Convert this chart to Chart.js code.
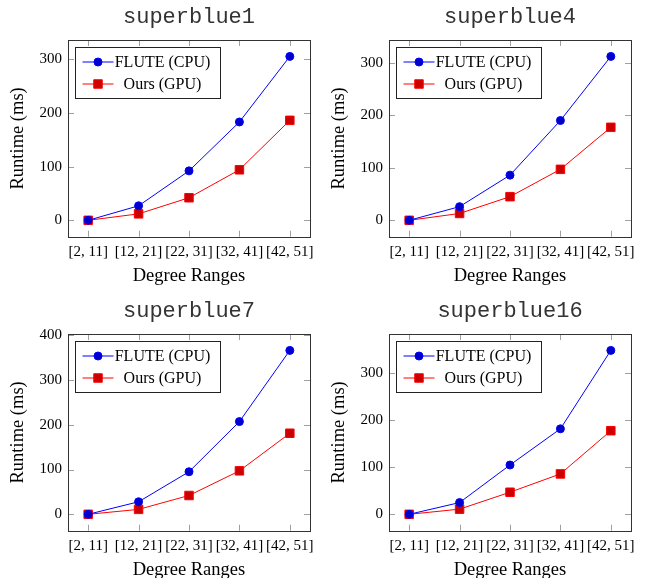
<!DOCTYPE html>
<html>
<head>
<meta charset="utf-8">
<script src="https://cdn.jsdelivr.net/npm/chart.js@4.4.0/dist/chart.umd.min.js"></script>
<style>
  html, body { margin: 0; padding: 0; background: #fff; overflow: hidden; }
  #wrap { position: relative; width: 645px; height: 578px; overflow: hidden; }
  canvas { position: absolute; }
</style>
</head>
<body>
<div id="wrap">
  <canvas id="c1" width="322" height="294" style="left:0;top:0"></canvas>
  <canvas id="c2" width="322" height="294" style="left:321px;top:0"></canvas>
  <canvas id="c3" width="322" height="294" style="left:0;top:294px"></canvas>
  <canvas id="c4" width="322" height="294" style="left:321px;top:294px"></canvas>
</div>
<script>
// data
const categories = ['[2, 11]', '[12, 21]', '[22, 31]', '[32, 41]', '[42, 51]'];
const seriesNames = ['FLUTE (CPU)', 'Ours (GPU)'];

const titles = ['superblue1', 'superblue4', 'superblue7', 'superblue16'];

const flute1 = [0, 27, 92, 183, 305];
const ours1 = [0, 12, 42, 94, 186];
const flute4 = [0, 26, 86, 190, 312];
const ours4 = [0, 13, 45, 97, 177];
const flute7 = [0, 28, 95, 207, 366];
const ours7 = [0, 11, 42, 97, 181];
const flute16 = [0, 25, 105, 182, 349];
const ours16 = [0, 11, 47, 86, 178];

const panels = [
  { id: 'c1', title: titles[0], flute: flute1, ours: ours1 },
  { id: 'c2', title: titles[1], flute: flute4, ours: ours4 },
  { id: 'c3', title: titles[2], flute: flute7, ours: ours7 },
  { id: 'c4', title: titles[3], flute: flute16, ours: ours16 }
];

const serif = "'Liberation Serif', 'Times New Roman', serif";

// pgfplots-like frame with inner tick marks
const framePlugin = {
  id: 'frame',
  beforeDatasetsDraw(chart) {
    const ctx = chart.ctx, a = chart.chartArea;
    const len = 6;
    ctx.save();
    ctx.strokeStyle = '#a0a0a0';
    ctx.lineWidth = 1;
    ctx.beginPath();
    chart.scales.y.ticks.forEach(t => {
      const y = Math.round(chart.scales.y.getPixelForValue(t.value)) + 0.5;
      ctx.moveTo(a.left, y); ctx.lineTo(a.left + len, y);
      ctx.moveTo(a.right, y); ctx.lineTo(a.right - len, y);
    });
    chart.scales.x.ticks.forEach(t => {
      const x = Math.round(chart.scales.x.getPixelForValue(t.value)) + 0.5;
      ctx.moveTo(x, a.bottom); ctx.lineTo(x, a.bottom - len);
      ctx.moveTo(x, a.top); ctx.lineTo(x, a.top + len);
    });
    ctx.stroke();
    ctx.restore();
  },
  afterDatasetsDraw(chart) {
    const ctx = chart.ctx, a = chart.chartArea;
    ctx.save();
    ctx.strokeStyle = '#333';
    ctx.lineWidth = 1;
    ctx.strokeRect(Math.round(a.left) + 0.5, Math.round(a.top) + 0.5,
      Math.round(a.right - a.left), Math.round(a.bottom - a.top));
    ctx.restore();
  }
};

// title centred over the plot box, like pgfplots does
const plotTitle = {
  id: 'plotTitle',
  afterDraw(chart, args, opts) {
    const ctx = chart.ctx, a = chart.chartArea;
    ctx.save();
    ctx.font = "22px 'Liberation Mono', 'Courier New', monospace";
    ctx.fillStyle = '#333';
    ctx.textAlign = 'center';
    ctx.textBaseline = 'middle';
    ctx.fillText(opts.text, (a.left + a.right) / 2, 17);
    ctx.restore();
  }
};

// legend box in the upper left corner of the plot
const boxLegend = {
  id: 'boxLegend',
  afterDraw(chart) {
    const ctx = chart.ctx, a = chart.chartArea;
    const x0 = Math.round(a.left + 7) + 0.5, y0 = Math.round(a.top + 7) + 0.5;
    const w = 145, h = 51;
    ctx.save();
    ctx.fillStyle = '#fff';
    ctx.fillRect(x0, y0, w, h);
    ctx.strokeStyle = '#222';
    ctx.lineWidth = 1;
    ctx.strokeRect(x0, y0, w, h);
    ctx.font = '16px ' + serif;
    ctx.textAlign = 'center';
    ctx.textBaseline = 'middle';
    chart.data.datasets.forEach((ds, i) => {
      const cy = y0 + 14.5 + i * 22;
      ctx.strokeStyle = ds.borderColor;
      ctx.lineWidth = 1;
      ctx.beginPath();
      ctx.moveTo(x0 + 7, cy); ctx.lineTo(x0 + 38, cy);
      ctx.stroke();
      ctx.fillStyle = ds.pointBackgroundColor;
      ctx.strokeStyle = ds.pointBorderColor;
      ctx.beginPath();
      if (ds.pointStyle === 'rect') {
        const s = ds.pointRadius * Math.SQRT1_2;
        ctx.rect(x0 + 22.5 - s, cy - s, 2 * s, 2 * s);
      } else {
        ctx.arc(x0 + 22.5, cy, ds.pointRadius, 0, Math.PI * 2);
      }
      ctx.fill(); ctx.stroke();
      ctx.fillStyle = '#000';
      ctx.fillText(ds.label, x0 + 87, cy + 1);
    });
    ctx.restore();
  }
};

panels.forEach(p => {
  const top = Math.max(...p.flute, ...p.ours);
  const yMin = -0.1 * top, yMax = 1.1 * top;

  new Chart(document.getElementById(p.id), {
    type: 'line',
    data: {
      datasets: [{
        label: seriesNames[0],
        data: p.flute.map((v, i) => ({ x: i, y: v })),
        borderColor: '#0000ff',
        borderWidth: 1,
        pointStyle: 'circle',
        pointRadius: 4,
        pointBorderWidth: 1,
        pointBackgroundColor: '#0000cc',
        pointBorderColor: '#0000ff',
        tension: 0
      }, {
        label: seriesNames[1],
        data: p.ours.map((v, i) => ({ x: i, y: v })),
        borderColor: '#ff0000',
        borderWidth: 1,
        pointStyle: 'rect',
        pointRadius: 6,
        pointBorderWidth: 1,
        pointBackgroundColor: '#cc0000',
        pointBorderColor: '#ff0000',
        tension: 0
      }]
    },
    options: {
      responsive: false,
      animation: false,
      events: [],
      layout: { padding: { left: 0, right: 12, top: 40, bottom: 0 } },
      plugins: {
        legend: { display: false },
        tooltip: { enabled: false },
        title: { display: false },
        plotTitle: { text: p.title }
      },
      scales: {
        x: {
          type: 'linear',
          min: -0.4,
          max: 4.4,
          grid: { display: false, drawTicks: false },
          border: { display: false },
          afterBuildTicks: s => { s.ticks = categories.map((c, i) => ({ value: i })); },
          afterFit: s => { s.height = 57.3; s.paddingLeft = 0; s.paddingRight = 0; },
          ticks: {
            autoSkip: false,
            maxRotation: 0,
            padding: 6,
            color: '#000',
            font: { family: serif, size: 15 },
            callback: v => categories[v]
          },
          title: {
            display: true,
            text: 'Degree Ranges',
            color: '#000',
            font: { family: serif, size: 18.5 },
            padding: { top: 0, bottom: 7 }
          }
        },
        y: {
          min: yMin,
          max: yMax,
          grid: { display: false, drawTicks: false },
          border: { display: false },
          afterBuildTicks: s => {
            const t = [];
            for (let v = 0; v <= yMax; v += 100) t.push({ value: v });
            s.ticks = t;
          },
          afterFit: s => { s.width = 68; s.paddingTop = 0; s.paddingBottom = 0; },
          ticks: {
            padding: 6,
            color: '#000',
            font: { family: serif, size: 15 }
          },
          title: {
            display: true,
            text: 'Runtime (ms)',
            color: '#000',
            font: { family: serif, size: 18.5 },
            padding: { top: 7, bottom: 0 }
          }
        }
      }
    },
    plugins: [framePlugin, plotTitle, boxLegend]
  });
});
</script>
</body>
</html>
